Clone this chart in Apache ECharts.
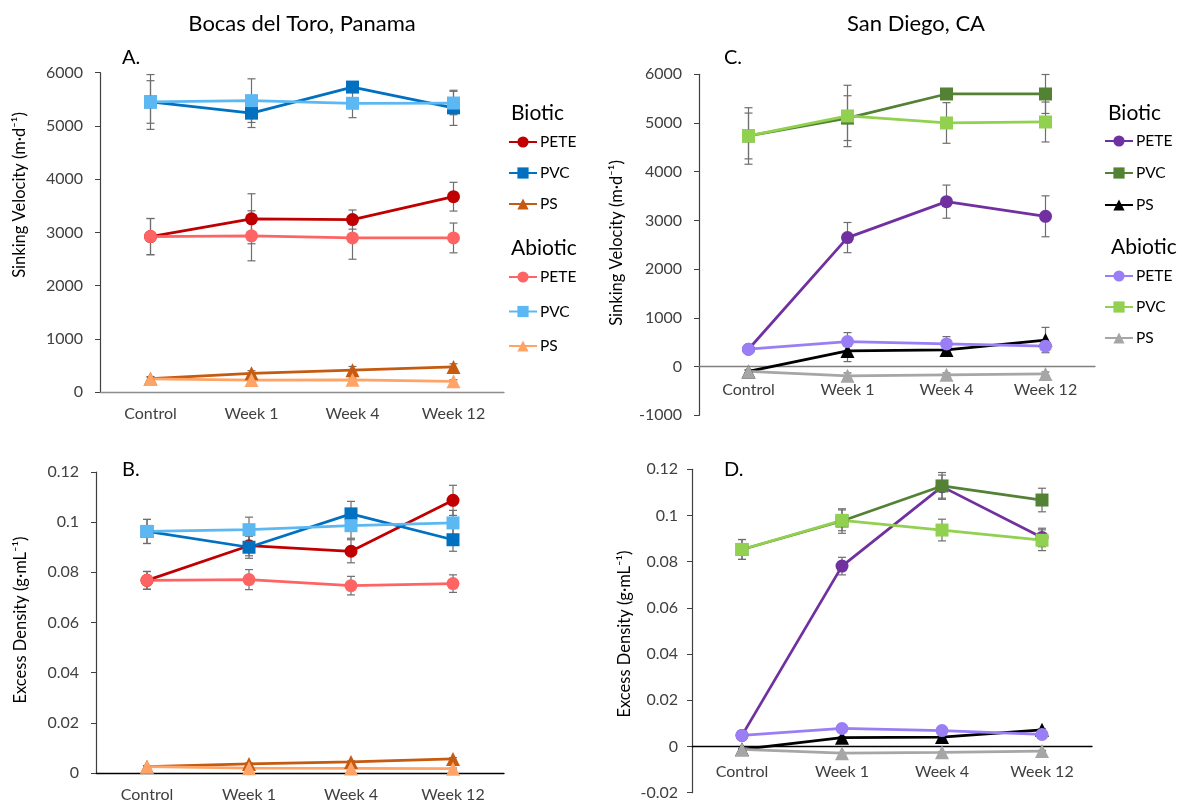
<!DOCTYPE html>
<html>
<head>
<meta charset="utf-8">
<script src="https://cdn.jsdelivr.net/npm/echarts@6/dist/echarts.min.js"></script>
<style>
html,body{margin:0;padding:0;background:#fff;}
#chart{width:1192px;height:810px;}
</style>
</head>
<body>
<div id="chart"></div>
<script>
// ---------- DATA ----------
const categories = ['Control', 'Week 1', 'Week 4', 'Week 12'];

// Panel A: Bocas del Toro, sinking velocity (m/d)
const velBocasBioPETE = [2920, 3255, 3240, 3670];
const velBocasBioPETEErr = [340, 470, 180, 270];
const velBocasBioPVC = [5450, 5240, 5730, 5340];
const velBocasBioPVCErr = [515, 270, 90, 330];
const velBocasBioPS = [250, 350, 410, 470];
const velBocasBioPSErr = [40, 50, 70, 60];
const velBocasAbioPETE = [2920, 2935, 2895, 2895];
const velBocasAbioPETEErr = [340, 470, 400, 280];
const velBocasAbioPVC = [5450, 5475, 5425, 5430];
const velBocasAbioPVCErr = [400, 410, 270, 220];
const velBocasAbioPS = [245, 225, 230, 200];
const velBocasAbioPSErr = [30, 30, 30, 30];

// Panel B: Bocas del Toro, excess density (g/mL)
const denBocasBioPETE = [0.0768, 0.0906, 0.0884, 0.1087];
const denBocasBioPETEErr = [0.0035, 0.004, 0.0046, 0.006];
const denBocasBioPVC = [0.0963, 0.0900, 0.1033, 0.0930];
const denBocasBioPVCErr = [0.0048, 0.0044, 0.005, 0.0046];
const denBocasBioPS = [0.0025, 0.0036, 0.0044, 0.0056];
const denBocasBioPSErr = [0.0004, 0.0004, 0.0004, 0.0005];
const denBocasAbioPETE = [0.0768, 0.0771, 0.0747, 0.0755];
const denBocasAbioPETEErr = [0.0036, 0.004, 0.0037, 0.0035];
const denBocasAbioPVC = [0.0963, 0.0970, 0.0986, 0.0997];
const denBocasAbioPVCErr = [0.0048, 0.005, 0.005, 0.005];
const denBocasAbioPS = [0.0025, 0.0019, 0.0018, 0.0017];
const denBocasAbioPSErr = [0.0003, 0.0003, 0.0003, 0.0003];

// Panel C: San Diego, sinking velocity (m/d)
const velSDBioPETE = [356, 2648, 3386, 3085];
const velSDBioPETEErr = [60, 310, 340, 420];
const velSDBioPVC = [4734, 5100, 5596, 5596];
const velSDBioPVCErr = [470, 460, 30, 400];
const velSDBioPS = [-100, 322, 342, 545];
const velSDBioPSErr = [30, 220, 60, 260];
const velSDAbioPETE = [356, 513, 465, 420];
const velSDAbioPETEErr = [40, 185, 150, 60];
const velSDAbioPVC = [4734, 5145, 5001, 5021];
const velSDAbioPVCErr = [580, 630, 417, 410];
const velSDAbioPS = [-100, -190, -170, -150];
const velSDAbioPSErr = [30, 60, 40, 40];

// Panel D: San Diego, excess density (g/mL)
const denSDBioPETE = [0.0048, 0.0781, 0.1125, 0.0905];
const denSDBioPETEErr = [0.0005, 0.0038, 0.005, 0.004];
const denSDBioPVC = [0.0853, 0.0976, 0.1128, 0.1067];
const denSDBioPVCErr = [0.0043, 0.0053, 0.0058, 0.0051];
const denSDBioPS = [-0.0012, 0.0038, 0.0041, 0.0072];
const denSDBioPSErr = [0.0004, 0.0004, 0.0004, 0.0005];
const denSDAbioPETE = [0.0048, 0.0078, 0.0069, 0.0052];
const denSDAbioPETEErr = [0.0005, 0.0005, 0.0005, 0.0005];
const denSDAbioPVC = [0.0853, 0.0979, 0.0937, 0.0893];
const denSDAbioPVCErr = [0.0043, 0.0045, 0.0047, 0.0045];
const denSDAbioPS = [-0.0012, -0.0029, -0.0025, -0.0020];
const denSDAbioPSErr = [0.0003, 0.0003, 0.0003, 0.0003];

// ---------- STYLE ----------
const FONT = 'Lato, "Open Sans", "Noto Sans", sans-serif';
const colorsBocas = {
  bio:  {PETE: '#C00000', PVC: '#0070C0', PS: '#C55A11'},
  abio: {PETE: '#FF6464', PVC: '#5CB8F2', PS: '#FFA466'}
};
const colorsSD = {
  bio:  {PETE: '#7030A0', PVC: '#548235', PS: '#000000'},
  abio: {PETE: '#9A7EF6', PVC: '#92D050', PS: '#A6A6A6'}
};
const symbols = {PETE: 'circle', PVC: 'rect', PS: 'triangle'};
const symbolSizes = {PETE: 13, PVC: 13, PS: 14};

const panels = [
  {key: 'A', colors: colorsBocas,
   grid: {left: 100, top: 72.7, width: 404, height: 319.3},
   y: {min: 0, max: 6000, interval: 1000}, xLine: '#8c8c8c', margin: 14, yMargin: 17,
   data: {bio: {PETE: [velBocasBioPETE, velBocasBioPETEErr], PVC: [velBocasBioPVC, velBocasBioPVCErr], PS: [velBocasBioPS, velBocasBioPSErr]},
          abio: {PETE: [velBocasAbioPETE, velBocasAbioPETEErr], PVC: [velBocasAbioPVC, velBocasAbioPVCErr], PS: [velBocasAbioPS, velBocasAbioPSErr]}}},
  {key: 'B', colors: colorsBocas,
   grid: {left: 96, top: 472, width: 408, height: 301},
   y: {min: 0, max: 0.12, interval: 0.02}, xLine: '#000000', margin: 14, yMargin: 17,
   data: {bio: {PETE: [denBocasBioPETE, denBocasBioPETEErr], PVC: [denBocasBioPVC, denBocasBioPVCErr], PS: [denBocasBioPS, denBocasBioPSErr]},
          abio: {PETE: [denBocasAbioPETE, denBocasAbioPETEErr], PVC: [denBocasAbioPVC, denBocasAbioPVCErr], PS: [denBocasAbioPS, denBocasAbioPSErr]}}},
  {key: 'C', colors: colorsSD,
   grid: {left: 699, top: 74.3, width: 396, height: 341},
   y: {min: -1000, max: 6000, interval: 1000}, xLine: '#7f7f7f', margin: -33, yMargin: 17,
   data: {bio: {PETE: [velSDBioPETE, velSDBioPETEErr], PVC: [velSDBioPVC, velSDBioPVCErr], PS: [velSDBioPS, velSDBioPSErr]},
          abio: {PETE: [velSDAbioPETE, velSDAbioPETEErr], PVC: [velSDAbioPVC, velSDAbioPVCErr], PS: [velSDAbioPS, velSDAbioPSErr]}}},
  {key: 'D', colors: colorsSD,
   grid: {left: 692, top: 469.3, width: 400, height: 323.4},
   y: {min: -0.02, max: 0.12, interval: 0.02}, xLine: '#000000', margin: -29, yMargin: 14,
   data: {bio: {PETE: [denSDBioPETE, denSDBioPETEErr], PVC: [denSDBioPVC, denSDBioPVCErr], PS: [denSDBioPS, denSDBioPSErr]},
          abio: {PETE: [denSDAbioPETE, denSDAbioPETEErr], PVC: [denSDAbioPVC, denSDAbioPVCErr], PS: [denSDAbioPS, denSDAbioPSErr]}}}
];

function renderErr(params, api) {
  const i = api.value(0);
  const p1 = api.coord([i, api.value(1)]);
  const p2 = api.coord([i, api.value(2)]);
  const w = 4;
  const st = {stroke: '#6e6e6e', lineWidth: 1.2};
  return {type: 'group', children: [
    {type: 'line', shape: {x1: p1[0], y1: p1[1], x2: p2[0], y2: p2[1]}, style: st},
    {type: 'line', shape: {x1: p1[0] - w, y1: p1[1], x2: p1[0] + w, y2: p1[1]}, style: st},
    {type: 'line', shape: {x1: p2[0] - w, y1: p2[1], x2: p2[0] + w, y2: p2[1]}, style: st}
  ]};
}

const grids = [], xAxes = [], yAxes = [], series = [];
panels.forEach((p, k) => {
  grids.push(Object.assign({containLabel: false}, p.grid));
  xAxes.push({
    type: 'category', gridIndex: k, data: categories, boundaryGap: true,
    axisLine: {onZero: true, lineStyle: {color: p.xLine, width: 1.3}},
    axisTick: {show: false},
    axisLabel: {fontFamily: FONT, fontSize: 16, color: '#404040', margin: p.margin}
  });
  yAxes.push({
    type: 'value', gridIndex: k, min: p.y.min, max: p.y.max, interval: p.y.interval,
    splitLine: {show: false},
    axisLine: {show: true, lineStyle: {color: '#404040', width: 1.2}},
    axisTick: {show: true, length: 5, lineStyle: {color: '#404040'}},
    axisLabel: {fontFamily: FONT, fontSize: 16, color: '#404040', margin: p.yMargin,
      formatter: v => String(+v.toFixed(2))}
  });
  ['bio', 'abio'].forEach(grp => {
    ['PETE', 'PVC', 'PS'].forEach(mat => {
      const vals = p.data[grp][mat][0];
      const errs = p.data[grp][mat][1];
      series.push({
        type: 'custom', xAxisIndex: k, yAxisIndex: k, silent: true, z: 2,
        renderItem: renderErr, encode: {x: 0, y: [1, 2]},
        data: vals.map((v, i) => [i, v - errs[i], v + errs[i]]),
        animation: false
      });
    });
  });
  ['bio', 'abio'].forEach(grp => {
    ['PETE', 'PVC', 'PS'].forEach(mat => {
      const c = p.colors[grp][mat];
      series.push({
        type: 'line', name: p.key + '|' + grp + '|' + mat, xAxisIndex: k, yAxisIndex: k,
        data: p.data[grp][mat][0], symbol: symbols[mat], symbolSize: symbolSizes[mat],
        showAllSymbol: true, z: 3,
        lineStyle: {color: c, width: 2.75}, itemStyle: {color: c, borderWidth: 0},
        emphasis: {disabled: true}, animation: false
      });
    });
  });
});

function legendFor(key, grp, left, top, gap) {
  return {
    orient: 'vertical', left: left, top: top, itemGap: gap, itemWidth: 28, itemHeight: 14,
    padding: 0, selectedMode: false,
    data: ['PETE', 'PVC', 'PS'].map(m => key + '|' + grp + '|' + m),
    formatter: n => n.split('|')[2],
    textStyle: {fontFamily: FONT, fontSize: 15.5, color: '#000', lineHeight: 14, padding: [0, 0, 0, -2]}
  };
}

function txt(text, x, y, size, opts) {
  opts = opts || {};
  return {
    type: 'text', x: x, y: y, rotation: opts.rot || 0, silent: true,
    style: {text: text, fill: opts.color || '#000', font: size + 'px ' + FONT,
      textAlign: opts.align || 'center', textVerticalAlign: 'middle',
      align: opts.align || 'center', verticalAlign: 'middle'}
  };
}

const option = {
  backgroundColor: '#fff',
  animation: false,
  grid: grids, xAxis: xAxes, yAxis: yAxes, series: series,
  legend: [
    legendFor('A', 'bio', 508, 134, 15),
    legendFor('A', 'abio', 508, 269, 18.5),
    legendFor('C', 'bio', 1104, 133, 16),
    legendFor('C', 'abio', 1104, 268, 15)
  ],
  graphic: [
    txt('Bocas del Toro, Panama', 302, 24, 22),
    txt('San Diego, CA', 916, 24, 22),
    txt('A.', 122, 58, 20, {align: 'left'}),
    txt('B.', 122, 470, 20, {align: 'left'}),
    txt('C.', 724, 58, 20, {align: 'left'}),
    txt('D.', 724, 470, 20, {align: 'left'}),
    txt('Sinking Velocity (m·d⁻¹)', 20, 195, 16.5, {rot: Math.PI / 2}),
    txt('Excess Density (g·mL⁻¹)', 21, 620, 16.5, {rot: Math.PI / 2}),
    txt('Sinking Velocity (m·d⁻¹)', 617, 243, 16.5, {rot: Math.PI / 2}),
    txt('Excess Density (g·mL⁻¹)', 625, 634, 16.5, {rot: Math.PI / 2}),
    txt('Biotic', 511, 113, 21, {align: 'left'}),
    txt('Abiotic', 511, 248, 21, {align: 'left'}),
    txt('Biotic', 1108, 113, 21, {align: 'left'}),
    txt('Abiotic', 1111, 247, 21, {align: 'left'})
  ]
};

const chart = echarts.init(document.getElementById('chart'), null, {renderer: 'canvas'});
chart.setOption(option);
</script>
</body>
</html>
